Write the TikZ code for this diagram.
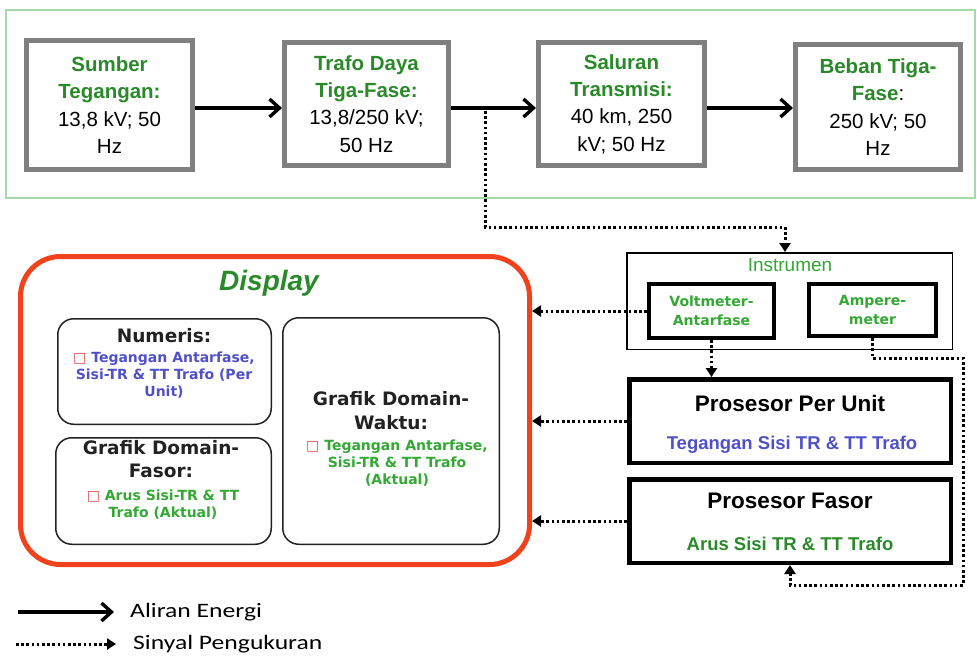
\documentclass[tikz,border=0pt]{standalone}
\usepackage{fontspec}
\setmainfont{Liberation Sans}
\newfontfamily\dvs{DejaVu Sans}
\newfontfamily\legfont[FakeStretch=1.25]{Carlito}
\usetikzlibrary{arrows.meta}
\definecolor{tg}{HTML}{2A8A2A}
\definecolor{lg}{HTML}{33A833}
\definecolor{bl}{HTML}{5050C8}
\definecolor{sq}{HTML}{E24A4A}
\definecolor{dr}{HTML}{F0421C}
\definecolor{gb}{HTML}{808080}
\definecolor{og}{HTML}{A8D8A8}
\definecolor{hd}{HTML}{222222}
\newcommand{\ttl}[1]{\textcolor{tg}{\bfseries #1}}
\newcommand{\sqm}{\textcolor{sq}{□}}
\tikzset{
  topbox/.style={draw=gb, line width=5pt, fill=white, align=center, inner sep=0pt,
    font=\fontsize{20.5}{27.3}\selectfont},
  energy/.style={line width=3.4pt, -{Straight Barb[length=10pt,width=18pt]}},
  signal/.style={line width=3pt, dash pattern=on 2.6pt off 2.6pt, line cap=butt,
    -{Triangle[length=9pt,width=11pt]}},
  rbox/.style={draw=hd, line width=1.5pt, rounded corners=16pt},
  hdtext/.style={align=center, inner sep=0pt, text=hd, font=\dvs\bfseries\fontsize{18.5}{23.5}\selectfont},
  smtext/.style={align=center, inner sep=0pt, font=\dvs\bfseries\fontsize{14}{17}\selectfont},
  thickbox/.style={draw=black, line width=4.5pt, fill=white, inner sep=0pt},
  leg/.style={anchor=west, inner sep=0pt, font=\legfont\fontsize{20.5}{24}\selectfont},
}
\begin{document}
\begin{tikzpicture}[x=1pt,y=-1pt]
\useasboundingbox (0,0) rectangle (977,657);
% outer green frame
\draw[og, line width=2pt] (6,10) rectangle (975,198);
% top chain
\node[topbox, minimum width=166pt, minimum height=129pt] (src) at (109.5,105)
  {\ttl{Sumber}\\\ttl{Tegangan:}\\13,8 kV; 50\\Hz};
\node[topbox, minimum width=164pt, minimum height=123pt] (trf) at (366.5,104)
  {\ttl{Trafo Daya}\\\ttl{Tiga-Fase:}\\13,8/250 kV;\\50 Hz};
\node[topbox, minimum width=166pt, minimum height=123pt] (sal) at (621.5,104)
  {\ttl{Saluran}\\\ttl{Transmisi:}\\40 km, 250\\kV; 50 Hz};
\node[topbox, minimum width=165pt, minimum height=125pt] (beb) at (878,107)
  {\ttl{Beban Tiga-}\\\ttl{Fase}:\\250 kV; 50\\Hz};
\coordinate (ylev) at (0,108);
\draw[energy] (src.east |- ylev) -- (trf.west |- ylev);
\draw[energy] (trf.east |- ylev) -- (sal.west |- ylev);
\draw[energy] (sal.east |- ylev) -- (beb.west |- ylev);
\coordinate (tap) at (485,111);
% Display
\node[draw=dr, line width=5pt, rounded corners=40pt, minimum width=509pt, minimum height=308pt] (disp) at (275,410.5) {};
\node[inner sep=0pt, text=tg, font=\bfseries\itshape\fontsize{28}{32}\selectfont] (disptitle) at (269,283) {Display};
\node[rbox, minimum width=213.5pt, minimum height=105.5pt] (num) at (164.5,371.5) {};
\node[rbox, minimum width=215.5pt, minimum height=106.5pt] (gfas) at (163.5,491) {};
\node[rbox, minimum width=216.5pt, minimum height=226.5pt] (gwak) at (391,431) {};
\node[hdtext] (numh) at (164,336) {Numeris:};
\node[smtext, text=bl] (numb) at (164,375) {\sqm\ Tegangan Antarfase,\\Sisi-TR \& TT Trafo (Per\\Unit)};
\node[hdtext] (gfash) at (161,459) {Grafik Domain-\\Fasor:};
\node[smtext, text=lg] (gfasb) at (163,505) {\sqm\ Arus Sisi-TR \& TT\\Trafo (Aktual)};
\node[hdtext] (gwakh) at (391,410.5) {Grafik Domain-\\Waktu:};
\node[smtext, text=lg] (gwakb) at (397,463.5) {\sqm\ Tegangan Antarfase,\\Sisi-TR \& TT Trafo\\(Aktual)};
% Instrumen
\node[draw=black, line width=1.5pt, minimum width=325.5pt, minimum height=96.5pt, inner sep=0pt] (ins) at (789.5,301) {};
\node[inner sep=0pt, text=lg, font=\fontsize{19}{22}\selectfont] (insh) at (790,265) {Instrumen};
\node[thickbox, line width=4pt, minimum width=125pt, minimum height=54pt, align=center, text=lg,
  font=\dvs\bfseries\fontsize{14}{19.5}\selectfont] (volt) at (711.5,311) {Voltmeter-\\Antarfase};
\node[thickbox, line width=4pt, minimum width=127pt, minimum height=52pt, align=center, text=lg,
  font=\dvs\bfseries\fontsize{14}{19.5}\selectfont] (amp) at (872.5,310) {Ampere-\\meter};
% Prosesor
\node[thickbox, minimum width=321.5pt, minimum height=83.5pt] (pu) at (790,421) {};
\node[inner sep=0pt, font=\bfseries\fontsize{22.5}{26}\selectfont] (puh) at (790,403) {Prosesor Per Unit};
\node[inner sep=0pt, text=bl, font=\bfseries\fontsize{18.5}{22}\selectfont] (pub) at (792,445) {Tegangan Sisi TR \& TT Trafo};
\node[thickbox, minimum width=321.5pt, minimum height=83.5pt] (fs) at (790,521) {};
\node[inner sep=0pt, font=\bfseries\fontsize{22.5}{26}\selectfont] (fsh) at (790,501) {Prosesor Fasor};
\node[inner sep=0pt, text=tg, font=\bfseries\fontsize{18.5}{22}\selectfont] (fsb) at (790,544) {Arus Sisi TR \& TT Trafo};
% signal connectors
\coordinate (c1) at (785,227);
\draw[signal] (tap) |- (c1) -- (c1 |- ins.north);
\draw[signal] (volt.west) -- (volt.west -| disp.east);
\draw[signal] (pu.west) -- (pu.west -| disp.east);
\draw[signal] (fs.west) -- (fs.west -| disp.east);
\draw[signal] (volt.south) -- (volt.south |- pu.north);
\coordinate (a1) at (963,358);
\coordinate (a2) at (963,585);
\draw[signal] (amp.south) |- (a1) -- (a2) -| (fs.south);
% legend
\coordinate (l1a) at (18,612);
\coordinate (l1b) at (114,612);
\coordinate (l2a) at (16,644);
\coordinate (l2b) at (116,644);
\draw[energy] (l1a) -- (l1b);
\draw[signal] (l2a) -- (l2b);
\node[leg] (leg1) at (130,612) {Aliran Energi};
\node[leg] (leg2) at (133,644) {Sinyal Pengukuran};
\end{tikzpicture}
\end{document}
